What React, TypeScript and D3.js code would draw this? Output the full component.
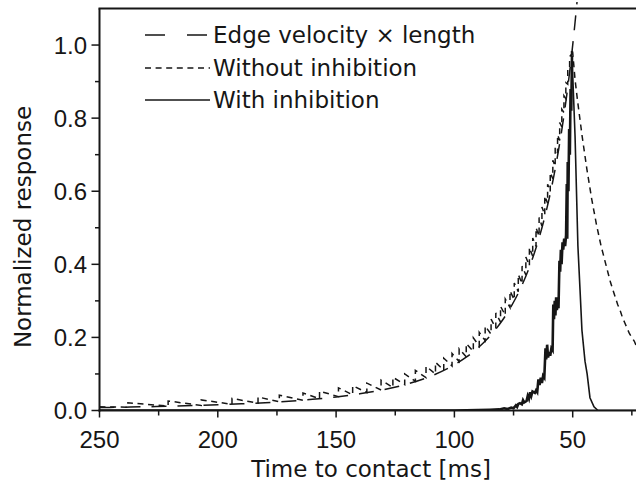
import React from "react";
import * as d3 from "d3";

// ---- data ----
const xMajorTicks = [250, 200, 150, 100, 50, 0];
const xMinorTicks = [225, 175, 125, 75, 25];
const yMajorTicks = [0, 0.2, 0.4, 0.6, 0.8, 1.0];
const yMinorTicks = [0.1, 0.3, 0.5, 0.7, 0.9];

const legendLabels = ["Edge velocity \u00d7 length", "Without inhibition", "With inhibition"];

// Edge velocity x length  [time to contact (ms), normalized response]
const edgeVelocity: [number, number][] = [
  [250, 0.008], [240, 0.009], [230, 0.0103], [220, 0.0117], [210, 0.0135],
  [200, 0.0156], [190, 0.0182], [180, 0.0214], [170, 0.0254], [160, 0.0305],
  [150, 0.037], [140, 0.0456], [130, 0.0569], [120, 0.0723], [110, 0.0939],
  [100, 0.125], [95, 0.1458], [90, 0.1715], [85, 0.2035], [80, 0.2441],
  [76, 0.2848], [72, 0.3349], [68, 0.3975], [65, 0.4552], [62, 0.5245],
  [60, 0.5787], [58, 0.6406], [56, 0.7117], [54, 0.7938], [52.5, 0.8638],
  [51, 0.9423], [50, 1.0], [49, 1.0625], [48, 1.1303], [47.5, 1.1664],
];

// Without inhibition: sawtooth teeth [jump time, value before jump, value after jump]
const withoutStart: [number, number] = [250, 0.010];
const withoutTeeth: [number, number, number][] = [
  [238, 0.009, 0.021], [221, 0.012, 0.026], [207, 0.014, 0.029], [194, 0.017, 0.033],
  [183, 0.020, 0.037], [174, 0.024, 0.042], [164, 0.028, 0.048], [157, 0.032, 0.053],
  [149, 0.038, 0.062], [143, 0.043, 0.068], [137, 0.049, 0.075], [131, 0.056, 0.083],
  [126, 0.063, 0.091], [121, 0.071, 0.100], [116.5, 0.080, 0.110], [112, 0.090, 0.121],
  [108, 0.100, 0.132], [104.5, 0.110, 0.143], [101, 0.122, 0.156], [98, 0.134, 0.169],
  [95, 0.147, 0.183], [92, 0.162, 0.199], [89.5, 0.176, 0.214], [87, 0.191, 0.231],
  [84.5, 0.209, 0.250], [82.5, 0.225, 0.267], [80.5, 0.242, 0.285], [78.5, 0.261, 0.305],
  [76.5, 0.282, 0.327], [74.7, 0.303, 0.349], [73, 0.325, 0.372], [71.4, 0.347, 0.395],
  [69.8, 0.371, 0.420], [68.3, 0.396, 0.446], [66.9, 0.422, 0.472], [65.5, 0.449, 0.500],
  [64.2, 0.477, 0.528], [63, 0.505, 0.557], [61.8, 0.535, 0.587], [60.6, 0.567, 0.619],
  [59.5, 0.599, 0.651], [58.4, 0.634, 0.685], [57.4, 0.668, 0.719], [56.4, 0.704, 0.754],
  [55.5, 0.739, 0.788], [54.6, 0.776, 0.824], [53.7, 0.815, 0.861], [52.9, 0.853, 0.897],
  [52.1, 0.893, 0.934], [51.3, 0.935, 0.968], [50.5, 0.975, 0.99],
];
// Without inhibition: decay after the peak
const withoutDecay: [number, number][] = [
  [50, 0.98], [49, 0.905], [48, 0.85], [47, 0.80], [46, 0.75], [45, 0.705],
  [44, 0.66], [43, 0.62], [42, 0.58], [41, 0.545], [40, 0.51], [39, 0.48],
  [38, 0.45], [37, 0.425], [36, 0.40], [35, 0.375], [34, 0.35], [33, 0.33],
  [32, 0.31], [31, 0.29], [30, 0.275], [29, 0.255], [28, 0.24], [27, 0.225],
  [26, 0.21], [25, 0.20], [24, 0.19], [23, 0.175], [22, 0.165],
];

// With inhibition: noisy rising part (drawn heavier) and falling part
const withRise: [number, number][] = [
  [250, 0], [100, 0], [90, 0.001], [85, 0.002], [81, 0.003], [79, 0.006], [77.5, 0.004],
  [76, 0.008], [75, 0.006], [74, 0.014], [73.5, 0.01], [73, 0.018], [72.3, 0.02],
  [71.5, 0.017], [71, 0.028], [70.5, 0.022], [69.5, 0.026], [69, 0.04], [68.5, 0.032],
  [68, 0.05], [67.5, 0.04], [67, 0.052], [66, 0.048], [65.5, 0.055], [65, 0.05],
  [64.5, 0.085], [64, 0.07], [63.5, 0.09], [63, 0.075], [62.5, 0.095], [62, 0.09],
  [61.5, 0.17], [61.2, 0.14], [60.8, 0.18], [60.4, 0.145], [60, 0.16], [59.5, 0.15],
  [59, 0.17], [58.5, 0.165], [58.2, 0.29], [57.9, 0.25], [57.6, 0.30], [57.3, 0.26],
  [57, 0.31], [56.7, 0.275], [56.3, 0.29], [56, 0.28], [55.6, 0.41], [55.3, 0.38],
  [55, 0.44], [54.7, 0.40], [54.3, 0.46], [54, 0.44], [53.6, 0.47], [53.2, 0.45],
  [52.8, 0.48], [52.5, 0.62], [52.3, 0.47], [52.1, 0.68], [51.8, 0.60], [51.5, 0.77],
  [51.2, 0.70], [50.9, 0.88], [50.6, 0.82], [50.3, 0.97],
];
const withFall: [number, number][] = [
  [50.3, 0.97], [49.0, 0.75], [47.8, 0.45], [46.9, 0.33], [46.1, 0.22], [44.8, 0.135],
  [43.9, 0.10], [42.7, 0.035], [41.0, 0.01], [39.3, 0], [20, 0],
];

const FONT = "'DejaVu Sans', sans-serif";
const TICK_FONT = "'Liberation Sans', Arial, sans-serif";
const INK = "#161616";

export default function App() {
  const W = 636, H = 486;
  const left = 99.5, top = 8.5, bottom = 410.5, right = 691;
  const x = d3.scaleLinear().domain([250, 0]).range([left, right]);
  const y = d3.scaleLinear().domain([0, 1.1]).range([bottom, top]);

  const line = d3.line<[number, number]>().x((d) => x(d[0])).y((d) => y(d[1]));
  const smooth = d3
    .line<[number, number]>()
    .x((d) => x(d[0]))
    .y((d) => y(d[1]))
    .curve(d3.curveMonotoneX);

  const withoutPts: [number, number][] = [withoutStart];
  withoutTeeth.forEach(([t, lo, hi]) => {
    withoutPts.push([t, lo]);
    withoutPts.push([t, hi]);
  });
  withoutDecay.forEach((p) => withoutPts.push(p));

  const legendY = [35, 68, 100];
  const legendDash = ["20,22", "6,4.6", "none"];

  return (
    <svg
      width={W}
      height={H}
      style={{ position: "absolute", left: 0, top: 0, background: "#fff" }}
    >
      <defs>
        <clipPath id="plot">
          <rect x={left} y={top} width={W - left} height={bottom - top} />
        </clipPath>
        <clipPath id="plotEdge">
          <rect x={left} y={2} width={W - left} height={bottom - 2} />
        </clipPath>
      </defs>

      {/* curves */}
      <g fill="none" stroke={INK} strokeWidth={1.5}>
        <path d={smooth(edgeVelocity) || ""} strokeDasharray="15,11" clipPath="url(#plotEdge)" />
        <path d={line(withoutPts) || ""} strokeDasharray="6,4.6" clipPath="url(#plot)" />
        <path d={line(withRise) || ""} strokeWidth={2.6} strokeLinejoin="miter" clipPath="url(#plot)" />
        <path d={line(withFall) || ""} strokeWidth={1.6} clipPath="url(#plot)" />
      </g>

      {/* frame */}
      <g stroke={INK} strokeWidth={2} fill="none">
        <line x1={left} y1={top} x2={left} y2={bottom + 1} />
        <line x1={left - 1} y1={top} x2={W} y2={top} />
        <line x1={left - 1} y1={bottom} x2={W} y2={bottom} />
      </g>

      {/* ticks */}
      <g stroke={INK} strokeWidth={1.5}>
        {yMajorTicks.map((v) => (
          <line key={"ym" + v} x1={left - 8} x2={left} y1={y(v)} y2={y(v)} />
        ))}
        {yMinorTicks.map((v) => (
          <line key={"yn" + v} x1={left - 4.5} x2={left} y1={y(v)} y2={y(v)} />
        ))}
        {xMajorTicks.filter((v) => x(v) <= W).map((v) => (
          <line key={"xm" + v} x1={x(v)} x2={x(v)} y1={bottom} y2={bottom + 7} />
        ))}
        {xMinorTicks.filter((v) => x(v) <= W).map((v) => (
          <line key={"xn" + v} x1={x(v)} x2={x(v)} y1={bottom} y2={bottom + 5} />
        ))}
      </g>

      {/* tick labels */}
      <g fill={INK} fontFamily={TICK_FONT} fontSize={24}>
        {yMajorTicks.map((v) => (
          <text key={"yl" + v} x={87} y={y(v)} dy="0.36em" textAnchor="end">
            {d3.format(".1f")(v)}
          </text>
        ))}
        {xMajorTicks.filter((v) => x(v) <= W).map((v) => (
          <text key={"xl" + v} x={x(v)} y={448} textAnchor="middle">
            {v}
          </text>
        ))}
      </g>

      {/* axis titles */}
      <g fill={INK} fontFamily={FONT} fontSize={23}>
        <text x={371} y={477} textAnchor="middle">
          Time to contact [ms]
        </text>
        <text transform={`translate(31,227) rotate(-90)`} textAnchor="middle">
          Normalized response
        </text>
      </g>

      {/* legend */}
      <g fontFamily={FONT} fontSize={23} fill={INK}>
        {legendLabels.map((lab, i) => (
          <g key={lab}>
            <line
              x1={145}
              x2={210}
              y1={legendY[i]}
              y2={legendY[i]}
              stroke={INK}
              strokeWidth={1.5}
              strokeDasharray={legendDash[i]}
            />
            <text x={213} y={legendY[i] + 8.4}>
              {lab}
            </text>
          </g>
        ))}
      </g>
    </svg>
  );
}
